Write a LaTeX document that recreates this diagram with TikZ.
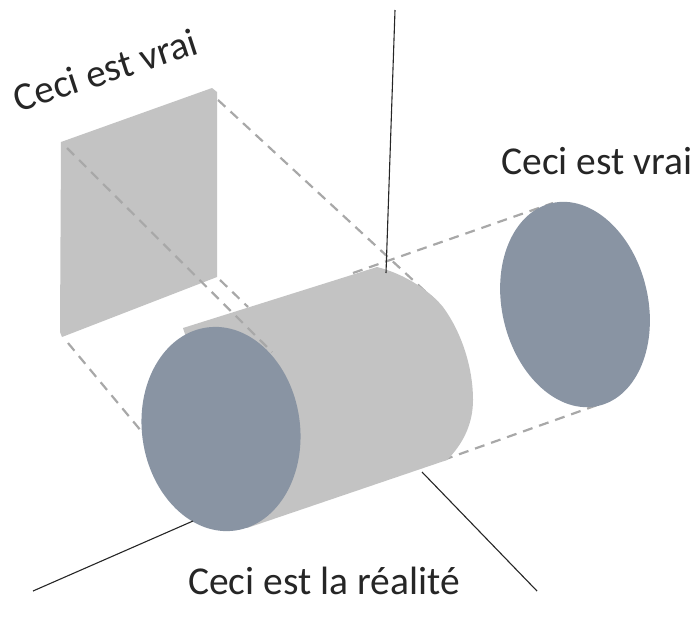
\documentclass[tikz,border=0pt]{standalone}
\usepackage{fontspec}
\setmainfont{Carlito}
\usetikzlibrary{calc}
\usetikzlibrary{positioning}
\usetikzlibrary{shapes.geometric}
\definecolor{bluegrey}{RGB}{137,148,163}
\definecolor{lightgrey}{RGB}{195,195,195}
\definecolor{dashgrey}{RGB}{168,168,168}
\tikzstyle{shadow} = [fill=lightgrey, draw=none]
\tikzstyle{disc} = [fill=bluegrey, draw=none, ellipse]
\tikzstyle{guide} = [dashgrey, line width=2.2pt, dash pattern=on 10pt off 7pt]
\tikzstyle{axisline} = [black!85, line width=1.1pt]
\tikzstyle{caption} = [font=\fontsize{39.5}{44}\selectfont, text=black!85, inner sep=0pt]
\begin{document}
\begin{tikzpicture}[x=1pt, y=-1pt]
  \useasboundingbox (0,0) rectangle (700,624);
  % corners and ends
  \coordinate (top) at (395,10);
  \coordinate (topend) at (386,273);
  \coordinate (left) at (33,591);
  \coordinate (leftend) at (193,521);
  \coordinate (right) at (537,591);
  \coordinate (rightend) at (422,472);
  \coordinate (squareA) at (218,100);
  \coordinate (squareB) at (67,148);
  \coordinate (squareC) at (68,343);
  \coordinate (squareD) at (220,280);
  \coordinate (cylA) at (441,306);
  \coordinate (cylB) at (272,352);
  \coordinate (cylC) at (142,432);
  \coordinate (cylD) at (248,307);
  \coordinate (discA) at (353,273);
  \coordinate (discAend) at (553,203);
  \coordinate (discB) at (443,460);
  \coordinate (discBend) at (603,403);
  % dashed lines behind
  \draw[guide] (squareA) -- (cylA);
  \draw[guide] (squareC) -- (cylC);
  \draw[guide] (squareD) -- (cylD);
  \draw[guide] (discA) -- (discAend);
  \draw[guide] (discB) -- (discBend);
  % projected shapes
  \fill[shadow] (61,142) -- (212,88) -- (217,92) -- (217,277) -- (62,337) -- (60,332) -- cycle;
  \node[disc, minimum width=146pt, minimum height=208pt, rotate=13] (discright) at (575,304.5) {};
  % cylinder
  \fill[shadow] (183,328) -- (377,267) .. controls (405,274) and (430,291) .. (443,307)
    .. controls (460,330) and (473,365) .. (473,400)
    .. controls (473,425) and (462,445) .. (447,460) -- (247,528) -- cycle;
  \node[disc, minimum width=158pt, minimum height=205pt, rotate=8] (discfront) at (221,429) {};
  % lines on top
  \draw[guide] (squareB) -- (cylB);
  \draw[axisline] (top) -- (topend);
  \draw[axisline] (left) -- (leftend);
  \draw[axisline] (right) -- (rightend);
  % captions
  \node[caption, rotate=18] (vraiA) at (105,70) {Ceci est vrai};
  \node[caption] (vraiB) at (597,161) {Ceci est vrai};
  \node[caption] (reel) at (324,581) {Ceci est la réalité};
\end{tikzpicture}
\end{document}
